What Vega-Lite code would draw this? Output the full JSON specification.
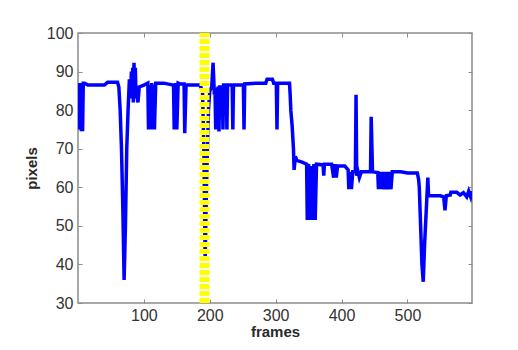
{
  "$schema": "https://vega.github.io/schema/vega-lite/v6.json",
  "width": 394,
  "height": 270,
  "autosize": "none",
  "padding": {"left": 78, "top": 33, "right": 46, "bottom": 47},
  "background": "white",
  "config": {
    "view": {"stroke": "#8c8c8c", "strokeWidth": 1.5},
    "axis": {
      "labelFont": "Liberation Sans",
      "labelFontSize": 16,
      "labelColor": "#333333",
      "titleFont": "Liberation Sans",
      "titleFontSize": 15,
      "titleFontWeight": "bold",
      "titleColor": "#2a2a2a",
      "grid": false,
      "domain": false,
      "tickColor": "#8c8c8c",
      "tickSize": -4,
      "tickWidth": 1
    }
  },
  "datasets": {
    "series": [
      {"frame": 1, "pixels": 87}, {"frame": 2, "pixels": 75}, {"frame": 4, "pixels": 87}, {"frame": 5, "pixels": 75},
      {"frame": 7, "pixels": 75}, {"frame": 8, "pixels": 87}, {"frame": 10, "pixels": 87}, {"frame": 15, "pixels": 86.5},
      {"frame": 40, "pixels": 86.5}, {"frame": 45, "pixels": 87.2}, {"frame": 60, "pixels": 87.2}, {"frame": 62, "pixels": 86},
      {"frame": 64, "pixels": 80}, {"frame": 66, "pixels": 70}, {"frame": 68, "pixels": 55}, {"frame": 70, "pixels": 36},
      {"frame": 72, "pixels": 50}, {"frame": 74, "pixels": 70}, {"frame": 76, "pixels": 80}, {"frame": 78, "pixels": 88},
      {"frame": 80, "pixels": 84}, {"frame": 81, "pixels": 90}, {"frame": 82, "pixels": 83}, {"frame": 83, "pixels": 91},
      {"frame": 84, "pixels": 82}, {"frame": 85, "pixels": 92.3}, {"frame": 86, "pixels": 83}, {"frame": 87, "pixels": 91},
      {"frame": 88, "pixels": 84}, {"frame": 89, "pixels": 85}, {"frame": 91, "pixels": 82}, {"frame": 93, "pixels": 86},
      {"frame": 100, "pixels": 86.5}, {"frame": 106, "pixels": 87}, {"frame": 107, "pixels": 75}, {"frame": 109, "pixels": 86.5},
      {"frame": 110, "pixels": 75}, {"frame": 112, "pixels": 87}, {"frame": 113, "pixels": 75}, {"frame": 115, "pixels": 86.5},
      {"frame": 116, "pixels": 75}, {"frame": 118, "pixels": 87}, {"frame": 130, "pixels": 87}, {"frame": 145, "pixels": 86.5},
      {"frame": 146, "pixels": 75}, {"frame": 148, "pixels": 87}, {"frame": 150, "pixels": 75}, {"frame": 152, "pixels": 87},
      {"frame": 155, "pixels": 86.8}, {"frame": 161, "pixels": 86.8}, {"frame": 162, "pixels": 74}, {"frame": 164, "pixels": 86.5},
      {"frame": 185, "pixels": 86.5}, {"frame": 189, "pixels": 85}, {"frame": 191, "pixels": 70}, {"frame": 193, "pixels": 41},
      {"frame": 195, "pixels": 60}, {"frame": 198, "pixels": 80}, {"frame": 200, "pixels": 85}, {"frame": 203, "pixels": 86},
      {"frame": 205, "pixels": 92.3}, {"frame": 207, "pixels": 84}, {"frame": 208, "pixels": 85}, {"frame": 209, "pixels": 75},
      {"frame": 210, "pixels": 85}, {"frame": 213, "pixels": 86}, {"frame": 214, "pixels": 74.5}, {"frame": 215, "pixels": 86},
      {"frame": 219, "pixels": 86}, {"frame": 220, "pixels": 75}, {"frame": 221, "pixels": 86.5}, {"frame": 225, "pixels": 86.5},
      {"frame": 226, "pixels": 75}, {"frame": 227, "pixels": 86.5}, {"frame": 234, "pixels": 86.5}, {"frame": 235, "pixels": 75},
      {"frame": 236, "pixels": 86.5}, {"frame": 251, "pixels": 86.5}, {"frame": 252, "pixels": 75}, {"frame": 253, "pixels": 86.8},
      {"frame": 270, "pixels": 87}, {"frame": 285, "pixels": 87}, {"frame": 287, "pixels": 88}, {"frame": 295, "pixels": 88},
      {"frame": 297, "pixels": 87}, {"frame": 301, "pixels": 87}, {"frame": 302, "pixels": 75}, {"frame": 303, "pixels": 87},
      {"frame": 321, "pixels": 87}, {"frame": 322, "pixels": 84}, {"frame": 323, "pixels": 80}, {"frame": 325, "pixels": 76},
      {"frame": 327, "pixels": 70}, {"frame": 328, "pixels": 64.5}, {"frame": 330, "pixels": 68}, {"frame": 332, "pixels": 67},
      {"frame": 340, "pixels": 66.5}, {"frame": 347, "pixels": 66}, {"frame": 348, "pixels": 51.5}, {"frame": 350, "pixels": 66},
      {"frame": 352, "pixels": 51.5}, {"frame": 354, "pixels": 65.5}, {"frame": 356, "pixels": 51.5}, {"frame": 358, "pixels": 66},
      {"frame": 360, "pixels": 51.5}, {"frame": 362, "pixels": 66}, {"frame": 372, "pixels": 65.8}, {"frame": 373, "pixels": 63},
      {"frame": 374, "pixels": 66}, {"frame": 385, "pixels": 66}, {"frame": 388, "pixels": 62.5}, {"frame": 390, "pixels": 66},
      {"frame": 392, "pixels": 62.5}, {"frame": 394, "pixels": 65.5}, {"frame": 405, "pixels": 65.5}, {"frame": 410, "pixels": 64.5},
      {"frame": 411, "pixels": 59.5}, {"frame": 413, "pixels": 64}, {"frame": 415, "pixels": 59.5}, {"frame": 417, "pixels": 64},
      {"frame": 421, "pixels": 64}, {"frame": 422, "pixels": 84}, {"frame": 423, "pixels": 63}, {"frame": 425, "pixels": 64},
      {"frame": 427, "pixels": 62.5}, {"frame": 430, "pixels": 64}, {"frame": 444, "pixels": 64}, {"frame": 445, "pixels": 78.3},
      {"frame": 447, "pixels": 64}, {"frame": 455, "pixels": 63.8}, {"frame": 456, "pixels": 59.5}, {"frame": 458, "pixels": 64},
      {"frame": 460, "pixels": 59.5}, {"frame": 462, "pixels": 64}, {"frame": 465, "pixels": 59.5}, {"frame": 467, "pixels": 64},
      {"frame": 470, "pixels": 59.5}, {"frame": 472, "pixels": 64}, {"frame": 475, "pixels": 59.5}, {"frame": 477, "pixels": 64},
      {"frame": 490, "pixels": 64}, {"frame": 500, "pixels": 63.7}, {"frame": 515, "pixels": 63.7}, {"frame": 517, "pixels": 62},
      {"frame": 518, "pixels": 60}, {"frame": 520, "pixels": 50}, {"frame": 522, "pixels": 40}, {"frame": 524, "pixels": 35.5},
      {"frame": 526, "pixels": 45}, {"frame": 528, "pixels": 52}, {"frame": 531, "pixels": 62.5}, {"frame": 532, "pixels": 58},
      {"frame": 534, "pixels": 57.8}, {"frame": 550, "pixels": 57.8}, {"frame": 555, "pixels": 57.5}, {"frame": 557, "pixels": 54},
      {"frame": 559, "pixels": 57.8}, {"frame": 565, "pixels": 58}, {"frame": 566, "pixels": 58.7}, {"frame": 575, "pixels": 58.7},
      {"frame": 580, "pixels": 58}, {"frame": 585, "pixels": 58.6}, {"frame": 590, "pixels": 57.5}, {"frame": 593, "pixels": 59},
      {"frame": 596, "pixels": 57.5}, {"frame": 598, "pixels": 59}
    ],
    "marker": [{"frame": 192, "low": 30, "high": 100}]
  },
  "layer": [
    {
      "data": {"name": "series"},
      "mark": {"type": "line", "color": "#0000ff", "strokeWidth": 3.5, "strokeJoin": "miter", "clip": true},
      "encoding": {
        "x": {"field": "frame", "type": "quantitative", "scale": {"domain": [0, 598], "nice": false, "zero": false},
              "axis": {"orient": "bottom", "values": [100, 200, 300, 400, 500], "title": "frames", "labelPadding": 8, "titlePadding": 1}},
        "y": {"field": "pixels", "type": "quantitative", "scale": {"domain": [30, 100], "nice": false, "zero": false},
              "axis": {"orient": "left", "values": [30, 40, 50, 60, 70, 80, 90, 100], "title": "pixels", "labelPadding": 9, "titlePadding": 7}}
      }
    },
    {
      "data": {"name": "marker"},
      "mark": {"type": "rule", "color": "#ffff00", "strokeWidth": 10, "strokeDash": [5, 2]},
      "encoding": {
        "x": {"field": "frame", "type": "quantitative",
              "axis": {"orient": "top", "values": [100, 200, 300, 400, 500], "labels": false, "title": null}},
        "y": {"field": "low", "type": "quantitative",
              "axis": {"orient": "right", "values": [30, 40, 50, 60, 70, 80, 90, 100], "labels": false, "title": null}},
        "y2": {"field": "high"}
      }
    }
  ],
  "resolve": {"axis": {"x": "independent", "y": "independent"}}
}
